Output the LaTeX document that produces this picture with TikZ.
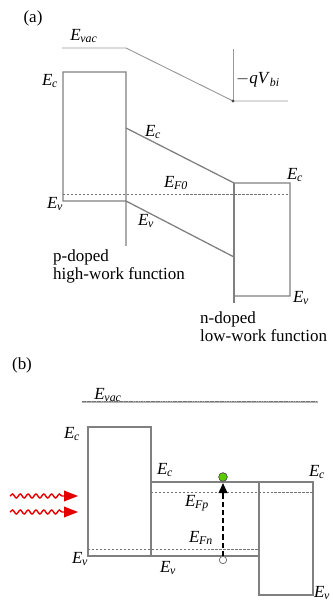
\documentclass[tikz,border=0pt]{standalone}
\usepackage{fontspec}
\setmainfont{Liberation Serif}
\usetikzlibrary{arrows.meta,decorations.pathmorphing}
\newcommand{\lvl}[1]{\textit{E}\kern-0.3pt\textsubscript{\textit{#1}}}

\begin{document}
\begin{tikzpicture}[x=0.3mm, y=-0.3mm, font=\fontsize{14.5}{15.5}\selectfont,
	band/.style={draw=black!50, line width=1.1pt},
	fermi/.style={draw=black!55, line width=0.6pt, dash pattern=on 2pt off 1.4pt},
	vacuum/.style={draw=black!40, line width=0.8pt},
	vacline/.style={draw=black!30, line width=1.5pt},
	vacdash/.style={draw=black!55, line width=0.5pt, dash pattern=on 1.5pt off 0.6pt},
	photon/.style={draw=red!90!black, line width=1.2pt, decorate, decoration={snake, amplitude=0.6mm, segment length=2.35mm, post length=3.8mm}, -{Triangle[length=4.2mm,width=3.2mm]}},
	lbl/.style={inner sep=0pt}]
	\useasboundingbox (0,0) rectangle (332,605);
	\node[lbl] (taga) at (33,18) {(a)};
	\draw[vacuum] (62,48) -- (126,48) -- (233,101) -- (288,101);
	\node[lbl] (vaca) at (84,36) {\lvl{vac}};
	\draw[vacuum] (233,49) -- (233,101);
	\fill[black!70] (233,101) circle (1.6);
	\node[lbl, anchor=west] (vbi) at (236,80) {$-$\textit{qV}\textsubscript{\textit{bi}}};
	\draw[band] (126,246) -- (126,72) -- (63,72) -- (63,201) -- (126,201) -- (234,257);
	\draw[band] (126,128) -- (234,183) -- (290,183) -- (290,296) -- (234,296);
	\draw[band] (234,183) -- (234,303);
	\draw[fermi] (63,194) -- (290,194);
	\node[lbl] (eca) at (50,81) {\lvl{c}};
	\node[lbl] (ecma) at (153,132) {\lvl{c}};
	\node[lbl] (ecra) at (295,175) {\lvl{c}};
	\node[lbl] (efa) at (176,183) {\lvl{F0}};
	\node[lbl] (eva) at (55,204) {\lvl{v}};
	\node[lbl] (evma) at (146,221) {\lvl{v}};
	\node[lbl] (evra) at (301,298) {\lvl{v}};
	\node[lbl, anchor=north west, align=left] (pside) at (53,249) {p-doped\\high-work function};
	\node[lbl, anchor=north west, align=left] (nside) at (200,311) {n-doped\\low-work function};

	\node[lbl] (tagb) at (22,365) {(b)};
	\draw[vacline] (82,402) -- (318,402);
	\draw[vacdash] (82,401.5) -- (318,401.5);
	\node[lbl] (vacb) at (108,395) {\lvl{vac}};
	\draw[band] (151,556) -- (151,427) -- (88,427) -- (88,556) -- (259,556);
	\draw[band] (151,482) -- (313,482) -- (313,595) -- (259,595) -- (259,482);
	\draw[fermi] (151,492) -- (313,492);
	\draw[fermi] (88,549) -- (259,549);
	\node[lbl] (ecb) at (72,434) {\lvl{c}};
	\node[lbl] (ecmb) at (165,470) {\lvl{c}};
	\node[lbl] (ecrb) at (317,472) {\lvl{c}};
	\node[lbl] (efp) at (197,503) {\lvl{Fp}};
	\node[lbl] (efn) at (201,538) {\lvl{Fn}};
	\node[lbl] (evb) at (80,559) {\lvl{v}};
	\node[lbl] (evmb) at (168,568) {\lvl{v}};
	\node[lbl] (evrb) at (322,593) {\lvl{v}};
	\node[circle, draw=black!60, line width=0.6pt, fill=white, inner sep=0pt, minimum size=2.2mm] (hole) at (223,560) {};
	\node[circle, draw=black!70, line width=0.6pt, fill=green!55!yellow!80!black, inner sep=0pt, minimum size=2.6mm] (elec) at (223,477) {};
	\draw[black, line width=1.3pt, dash pattern=on 4.5pt off 2.5pt, -{Triangle[length=3mm,width=2.6mm]}] (hole) -- (223,483);
	\draw[photon] (10,496) -- (78,496);
	\draw[photon] (10,512) -- (78,512);
\end{tikzpicture}
\end{document}
